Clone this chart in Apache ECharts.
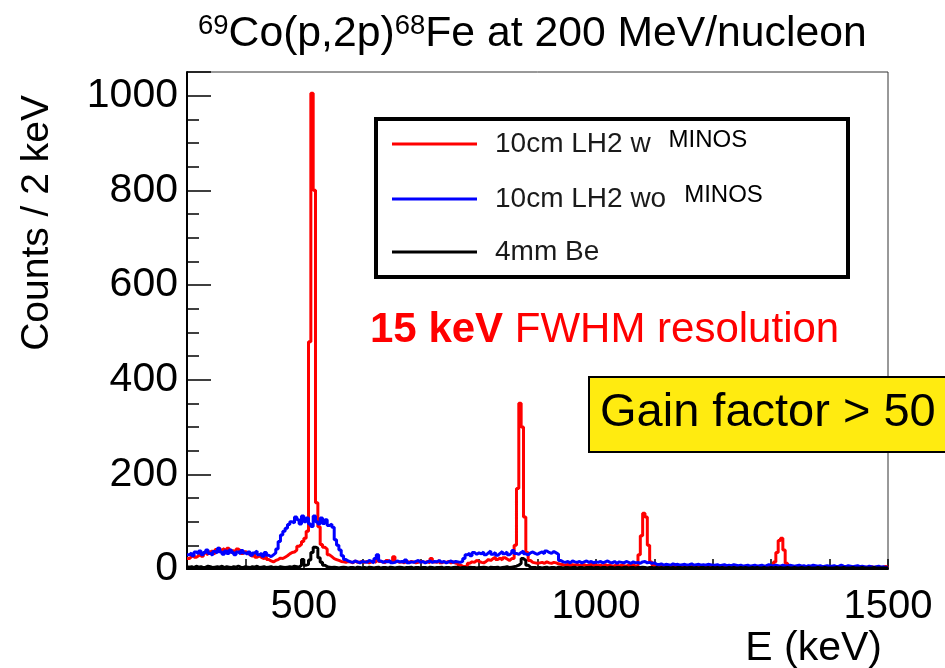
<!DOCTYPE html>
<html>
<head>
<meta charset="utf-8">
<script src="https://cdn.jsdelivr.net/npm/echarts@6/dist/echarts.min.js"></script>
<style>
  html, body { margin: 0; padding: 0; background: #fff; }
  #chart { width: 945px; height: 668px; }
</style>
</head>
<body>
<div id="chart"></div>
<script>
// Gamma spectra of 69Co(p,2p)68Fe, histogram bins of 4 keV starting at 300 keV
const eStart = 300;
const binWidth = 4;
const xTickLabels = [500, 1000, 1500];
const seriesNames = ['10cm LH2 w', '10cm LH2 wo', '4mm Be'];

// 10cm LH2 target with MINOS tracking (one row per 100 keV)
const countsWithMinos = [
  22,26,30,25,28,32,27,34,30,36,38,33,41,45,40,43,38,44,36,40,35,42,38,33,37,
  34,30,27,31,25,28,24,22,26,20,17,15,18,20,23,22,25,28,32,35,36,40,48,52,58,
  65,80,480,1005,800,140,89,52,46,42,30,26,22,20,18,16,15,14,16,15,13,17,14,15,16,
  14,16,13,15,17,14,22,16,15,13,18,15,14,26,16,14,15,13,17,14,16,15,13,14,16,
  15,14,16,13,22,15,14,18,13,15,14,16,13,15,12,14,8,6,5,7,12,15,14,18,16,
  14,13,16,20,18,22,25,20,23,19,24,21,18,22,22,50,170,350,300,110,35,18,14,13,12,
  13,14,12,15,13,12,14,13,11,10,9,8,10,7,9,8,10,7,8,9,7,8,10,7,8,
  7,8,6,9,7,8,6,7,9,6,8,7,6,8,7,9,6,7,30,70,118,110,50,15,8,
  6,7,5,6,8,5,6,7,5,6,5,7,6,5,6,5,7,5,6,5,6,7,5,6,5,
  5,6,4,5,6,4,5,5,4,6,5,4,5,6,4,5,4,5,6,4,5,4,6,5,4,
  6,15,35,60,65,40,12,5,4,5,4,5,4,3,5,4,5,4,3,4,5,4,3,4,5,
  4,3,4,3,4,5,3,4,3,4,3,4,3,4,3,4,3,5,3,4,3,4,3,6,3
];

// 10cm LH2 target without MINOS
const countsWithoutMinos = [
  30,34,28,36,32,38,30,35,40,33,29,37,34,44,36,31,38,33,40,35,30,36,32,39,34,
  31,36,29,34,38,30,33,27,35,29,26,30,34,42,58,72,80,86,94,100,97,110,104,95,112,
  100,108,95,90,112,100,95,108,96,104,92,95,88,62,50,40,28,20,17,15,14,17,15,13,16,
  15,14,18,16,13,22,30,17,14,16,15,18,13,14,17,15,16,14,19,13,15,14,16,18,14,
  16,13,15,17,14,16,15,18,14,16,13,15,17,14,16,15,14,16,22,30,33,28,35,31,34,
  32,36,30,34,38,31,35,29,33,37,32,36,30,34,39,33,31,35,38,32,30,34,36,33,31,
  34,36,32,38,35,33,37,34,31,18,15,14,16,13,17,15,14,16,13,15,17,14,16,13,15,
  14,16,13,15,17,14,13,16,12,15,14,13,16,14,12,15,13,14,12,15,16,13,14,12,13,
  10,9,11,8,10,9,8,11,9,10,8,9,10,8,9,11,8,9,10,8,9,8,10,9,8,
  8,9,7,8,9,7,8,7,9,8,7,8,6,7,8,6,7,8,6,7,8,6,7,9,7,
  7,8,7,6,8,7,6,8,7,6,7,8,6,7,5,7,6,8,7,6,7,5,6,7,6,
  6,7,5,6,8,6,5,7,6,5,6,7,5,6,5,4,6,5,4,5,6,4,5,3,4
];

// 4mm Be target
const countsBe = [
  4,5,3,6,4,5,3,4,6,5,3,4,5,4,6,3,5,4,3,5,4,6,4,3,5,
  4,3,5,4,6,3,4,5,3,4,5,3,4,3,5,4,3,4,5,4,6,5,4,8,20,
  8,10,19,35,46,44,24,14,8,5,4,3,4,3,2,3,4,3,2,3,3,2,4,3,2,
  3,2,4,3,2,3,4,2,3,3,2,4,3,2,3,4,3,2,3,3,4,2,3,3,2,
  3,3,2,4,3,2,3,3,4,2,3,3,2,3,4,3,2,3,3,2,4,3,3,2,3,
  3,4,3,2,4,3,3,4,2,3,4,5,3,4,5,6,8,12,22,18,8,4,3,3,2,
  3,2,3,4,2,3,3,2,4,3,2,3,3,2,3,4,2,3,3,2,3,3,4,2,3,
  3,2,3,3,2,4,3,2,3,3,2,3,4,2,3,3,2,3,3,4,3,2,3,3,2,
  3,2,3,2,3,3,2,3,2,3,3,2,3,2,3,3,2,3,2,3,3,2,3,2,3,
  2,3,2,3,2,2,3,2,3,2,2,3,2,3,2,2,3,2,3,2,2,3,2,2,3,
  2,3,2,3,2,2,3,2,2,3,2,2,3,2,2,3,2,2,2,3,2,2,3,2,2,
  2,2,3,2,2,3,2,2,2,3,2,2,2,3,2,2,2,2,3,2,2,2,2,2,2
];

// Turn bin contents into [lowEdge, count] points, closing the last bin at its upper edge
function toHistogram(counts) {
  const pts = counts.map((c, i) => [eStart + i * binWidth, c]);
  pts.push([eStart + counts.length * binWidth, counts[counts.length - 1]]);
  return pts;
}

const FONT = '"Liberation Sans", Arial, Helvetica, sans-serif';
const colors = ['#ff0000', '#0000ff', '#000000'];
const histograms = [countsWithMinos, countsWithoutMinos, countsBe];

const chart = echarts.init(document.getElementById('chart'), null, { renderer: 'canvas' });

chart.setOption({
  animation: false,
  backgroundColor: '#ffffff',
  textStyle: { fontFamily: FONT },
  title: {
    text: '{s|69}{n|Co(p,2p)}{s|68}{n|Fe at 200 MeV/nucleon}',
    left: 198,
    top: 12,
    padding: 0,
    textStyle: {
      fontWeight: 'normal',
      rich: {
        n: { fontSize: 42.7, fontWeight: 'normal', fontFamily: FONT, color: '#000', lineHeight: 44 },
        s: { fontSize: 27.5, fontWeight: 'normal', fontFamily: FONT, color: '#000', lineHeight: 27, verticalAlign: 'top' }
      }
    }
  },
  grid: {
    left: 187, right: 57, top: 72, bottom: 99,
    show: true, borderColor: '#333', borderWidth: 1, backgroundColor: 'transparent'
  },
  legend: {
    orient: 'vertical',
    left: 392,
    top: 128,
    padding: 0,
    itemGap: 25,
    itemWidth: 85,
    itemHeight: 3,
    icon: 'rect',
    selectedMode: false,
    z: 10,
    data: seriesNames,
    formatter: function (name) {
      return name.indexOf('LH2') >= 0 ? '{a|' + name + '}{m|MINOS}' : '{a|' + name + '}';
    },
    textStyle: {
      rich: {
        a: { fontSize: 28, fontFamily: FONT, color: '#1a1a1a', lineHeight: 32, padding: [0, 0, 0, 13] },
        m: { fontSize: 24, fontFamily: FONT, color: '#000', lineHeight: 28, verticalAlign: 'top', padding: [0, 0, 0, 18] }
      }
    }
  },
  xAxis: {
    type: 'value',
    min: 300,
    max: 1500,
    interval: 100,
    axisLine: { show: true, onZero: false, lineStyle: { color: '#000', width: 2 } },
    axisTick: { show: true, inside: true, length: 10, lineStyle: { color: '#000', width: 1.5 } },
    splitLine: { show: false },
    axisLabel: {
      margin: 18,
      fontSize: 40,
      fontFamily: FONT,
      color: '#000',
      formatter: function (v) { return xTickLabels.indexOf(v) >= 0 ? String(v) : ''; }
    }
  },
  yAxis: {
    type: 'value',
    min: 0,
    max: 1050,
    interval: 200,
    axisLine: { show: true, lineStyle: { color: '#000', width: 2 } },
    axisTick: { show: true, inside: true, length: 24, lineStyle: { color: '#000', width: 1.5 } },
    minorTick: { show: true, splitNumber: 4, length: 12, lineStyle: { color: '#000', width: 1.5 } },
    splitLine: { show: false },
    axisLabel: {
      margin: 9,
      fontSize: 41,
      fontFamily: FONT,
      color: '#000',
      showMaxLabel: false,
      formatter: function (v) { return String(v); }
    }
  },
  series: histograms.map((counts, k) => ({
    name: seriesNames[k],
    type: 'line',
    step: 'end',
    showSymbol: false,
    symbol: 'none',
    clip: true,
    color: colors[k],
    lineStyle: { color: colors[k], width: 3 },
    z: 2 + k,
    data: toHistogram(counts)
  })),
  graphic: [
    // legend frame
    {
      type: 'rect', z: 5,
      shape: { x: 376, y: 119, width: 472, height: 158 },
      style: { fill: '#ffffff', stroke: '#000', lineWidth: 4 }
    },
    // resolution note
    {
      type: 'text', z: 6, left: 370, top: 309,
      style: {
        text: '{b|15 keV}{r| FWHM resolution}',
        rich: {
          b: { fontSize: 42, fontWeight: 'bold', fontFamily: FONT, fill: '#ff0000' },
          r: { fontSize: 42, fontFamily: FONT, fill: '#ff0000' }
        }
      }
    },
    // gain annotation box
    {
      type: 'rect', z: 6,
      shape: { x: 589, y: 377, width: 370, height: 75 },
      style: { fill: '#ffeb10', stroke: '#000', lineWidth: 2 }
    },
    {
      type: 'text', z: 7, left: 600, top: 390,
      style: { text: 'Gain factor > 50', fontSize: 47, fontFamily: FONT, fill: '#000' }
    },
    // axis titles
    {
      type: 'text', z: 6, x: 18, y: 95, rotation: Math.PI / 2,
      style: { text: 'Counts / 2 keV', fontSize: 39, fontFamily: FONT, fill: '#000', align: 'right', verticalAlign: 'top' }
    },
    {
      type: 'text', z: 6, x: 882, y: 628,
      style: { text: 'E (keV)', fontSize: 41, fontFamily: FONT, fill: '#000', align: 'right', verticalAlign: 'top' }
    }
  ]
});
</script>
</body>
</html>
